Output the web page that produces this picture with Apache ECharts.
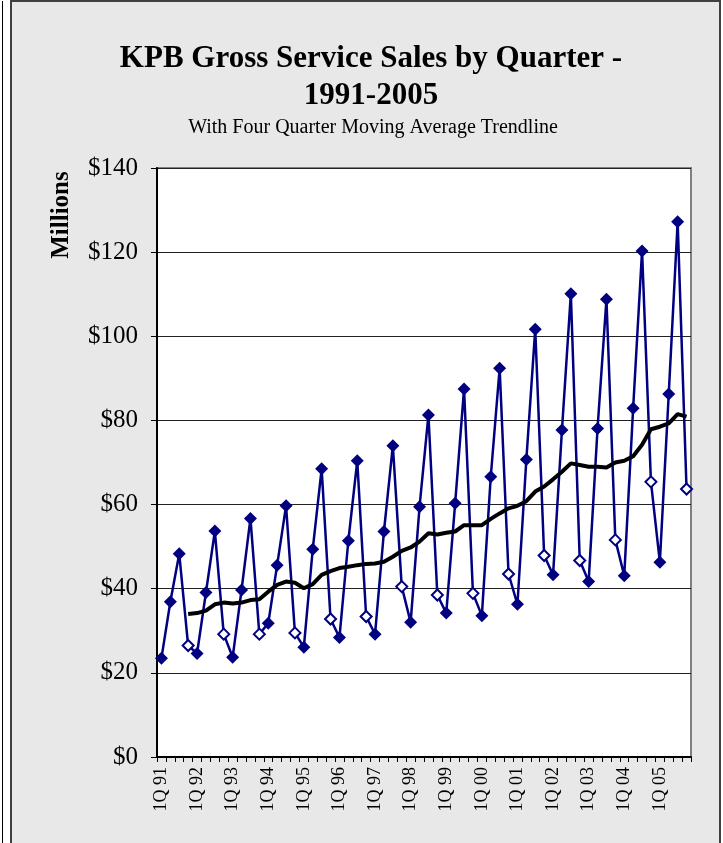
<!DOCTYPE html>
<html>
<head>
<meta charset="utf-8">
<script src="https://cdn.jsdelivr.net/npm/echarts@6/dist/echarts.min.js"></script>
<style>
html,body{margin:0;padding:0;background:#fff;}
#chart{width:723px;height:843px;}
</style>
</head>
<body>
<div id="chart"></div>
<script>
// ---- data ----
var years = ['91','92','93','94','95','96','97','98','99','00','01','02','03','04','05'];
var quarterNames = ['1Q','2Q','3Q','4Q'];
var yTickValues = [0, 20, 40, 60, 80, 100, 120, 140];

// Gross service sales, $ millions, 1Q91 .. 4Q05
var sales91 = [23.5, 36.9, 48.3, 26.5];
var sales92 = [24.6, 39.1, 53.7, 29.2];
var sales93 = [23.7, 39.7, 56.7, 29.2];
var sales94 = [31.8, 45.6, 59.7, 29.5];
var sales95 = [26.1, 49.4, 68.5, 32.8];
var sales96 = [28.4, 51.4, 70.4, 33.4];
var sales97 = [29.2, 53.6, 74.0, 40.5];
var sales98 = [32.0, 59.5, 81.3, 38.5];
var sales99 = [34.2, 60.3, 87.5, 38.9];
var sales00 = [33.6, 66.6, 92.4, 43.5];
var sales01 = [36.3, 70.7, 101.7, 47.9];
var sales02 = [43.3, 77.7, 110.1, 46.7];
var sales03 = [41.7, 78.1, 108.8, 51.6];
var sales04 = [43.1, 82.9, 120.3, 65.4];
var sales05 = [46.3, 86.3, 127.2, 63.7];

// Four quarter moving average (starts at 4Q91)
var movingAvg = [null, null, null,
  34.0, 34.2, 34.8, 36.3, 36.7, 36.5, 36.7, 37.3, 37.5, 39.3, 40.9, 41.7, 41.4,
  40.1, 41.1, 43.3, 44.2, 44.9, 45.2, 45.6, 45.9, 46.0, 46.4, 47.6, 49.0,
  49.8, 51.2, 53.2, 52.9, 53.3, 53.6, 55.1, 55.1, 55.1, 56.6, 57.9, 59.1,
  59.7, 60.8, 63.1, 64.3, 66.0, 67.8, 69.8, 69.4, 69.0, 69.0, 68.8, 70.0,
  70.4, 71.5, 74.2, 77.9, 78.5, 79.3, 81.5, 80.9];

// ---- build ----
var categories = [];
years.forEach(function (y) { quarterNames.forEach(function (q) { categories.push(q + ' ' + y); }); });
var sales = [].concat(sales91, sales92, sales93, sales94, sales95, sales96, sales97, sales98,
  sales99, sales00, sales01, sales02, sales03, sales04, sales05);

var NAVY = '#000080';
var FONT = "'Liberation Serif', 'Times New Roman', serif";

var salesData = sales.map(function (v, i) {
  if (i % 4 === 3) {
    return { value: v, symbolSize: 11, itemStyle: { color: '#ffffff', borderColor: NAVY, borderWidth: 2 } };
  }
  return { value: v };
});

var chart = echarts.init(document.getElementById('chart'), null, { renderer: 'canvas' });
chart.setOption({
  animation: false,
  backgroundColor: 'transparent',
  graphic: [
    { type: 'rect', z: -100, silent: true, shape: { x: 11, y: 1, width: 709, height: 860 },
      style: { fill: '#e8e8e8', stroke: '#404040', lineWidth: 2 } },
    { type: 'line', z: -100, silent: true, shape: { x1: 2.5, y1: 1, x2: 2.5, y2: 843 },
      style: { stroke: '#000', lineWidth: 1 } },
    { type: 'text', x: 62, y: 215, rotation: Math.PI / 2, z: 10,
      style: { text: 'Millions', font: 'bold 25px ' + FONT, fill: '#000',
        textAlign: 'center', textVerticalAlign: 'middle', align: 'center', verticalAlign: 'middle' } }
  ],
  title: [
    { text: 'KPB Gross Service Sales by Quarter -\n1991-2005', left: 366, top: 35, textAlign: 'center',
      textStyle: { fontFamily: FONT, fontSize: 31, fontWeight: 'bold', color: '#000', lineHeight: 37 } },
    { text: 'With Four Quarter Moving Average Trendline', left: 368, top: 113, textAlign: 'center',
      textStyle: { fontFamily: FONT, fontSize: 20, fontWeight: 'normal', color: '#000' } }
  ],
  grid: {
    left: 157, top: 168, right: 32, bottom: 86,
    show: true, backgroundColor: '#ffffff', borderColor: '#808080', borderWidth: 2
  },
  xAxis: {
    type: 'category',
    data: categories,
    boundaryGap: true,
    axisLine: { lineStyle: { color: '#000', width: 2 } },
    axisTick: { show: true, interval: 0, length: 5, lineStyle: { color: '#000', width: 1 } },
    axisLabel: {
      interval: 3, rotate: 90, margin: 10,
      fontFamily: FONT, fontSize: 18, color: '#000'
    },
    splitLine: { show: false }
  },
  yAxis: {
    type: 'value',
    min: yTickValues[0], max: yTickValues[yTickValues.length - 1], interval: 20,
    axisLine: { show: true, lineStyle: { color: '#000', width: 2 } },
    axisTick: { show: true, length: 6, lineStyle: { color: '#000', width: 1 } },
    axisLabel: { margin: 19, fontFamily: FONT, fontSize: 25, color: '#000',
      formatter: function (v) { return '$' + v; } },
    splitLine: { show: true, lineStyle: { color: '#222', width: 1 } }
  },
  series: [
    {
      name: 'Gross Service Sales', type: 'line', data: salesData,
      symbol: 'diamond', symbolSize: 13, showAllSymbol: true,
      lineStyle: { color: NAVY, width: 2.5 },
      itemStyle: { color: NAVY },
      z: 3
    },
    {
      name: '4 Qtr Moving Average', type: 'line', data: movingAvg,
      showSymbol: false, symbol: 'none', connectNulls: false,
      lineStyle: { color: '#000', width: 4 },
      z: 4
    }
  ]
});
</script>
</body>
</html>
